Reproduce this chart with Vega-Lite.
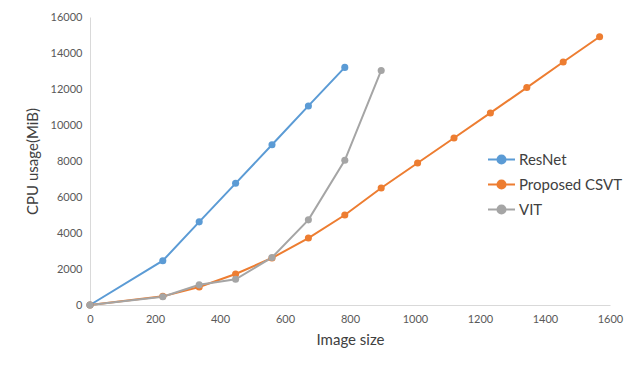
{
  "$schema": "https://vega.github.io/schema/vega-lite/v6.json",
  "width": 520,
  "height": 288,
  "autosize": {"type": "none"},
  "padding": {"left": 90, "top": 17, "right": 30, "bottom": 70},
  "background": "white",
  "config": {
    "view": {"stroke": null},
    "font": "Lato",
    "axis": {"labelFont": "Lato", "titleFont": "Lato", "labelColor": "#595959", "titleColor": "#404040", "titleFontWeight": "normal"}
  },
  "data": {
    "values": [
      {"model": "ResNet", "size": 0, "cpu": 0},
      {"model": "ResNet", "size": 224, "cpu": 2460},
      {"model": "ResNet", "size": 336, "cpu": 4620},
      {"model": "ResNet", "size": 448, "cpu": 6760},
      {"model": "ResNet", "size": 560, "cpu": 8900},
      {"model": "ResNet", "size": 672, "cpu": 11060},
      {"model": "ResNet", "size": 784, "cpu": 13200},
      {"model": "Proposed CSVT", "size": 0, "cpu": 0},
      {"model": "Proposed CSVT", "size": 224, "cpu": 480},
      {"model": "Proposed CSVT", "size": 336, "cpu": 1000},
      {"model": "Proposed CSVT", "size": 448, "cpu": 1720},
      {"model": "Proposed CSVT", "size": 560, "cpu": 2610},
      {"model": "Proposed CSVT", "size": 672, "cpu": 3720},
      {"model": "Proposed CSVT", "size": 784, "cpu": 5000},
      {"model": "Proposed CSVT", "size": 896, "cpu": 6500},
      {"model": "Proposed CSVT", "size": 1008, "cpu": 7890},
      {"model": "Proposed CSVT", "size": 1120, "cpu": 9280},
      {"model": "Proposed CSVT", "size": 1232, "cpu": 10670},
      {"model": "Proposed CSVT", "size": 1344, "cpu": 12080},
      {"model": "Proposed CSVT", "size": 1456, "cpu": 13500},
      {"model": "Proposed CSVT", "size": 1568, "cpu": 14900},
      {"model": "VIT", "size": 0, "cpu": 0},
      {"model": "VIT", "size": 224, "cpu": 460},
      {"model": "VIT", "size": 336, "cpu": 1120},
      {"model": "VIT", "size": 448, "cpu": 1430},
      {"model": "VIT", "size": 560, "cpu": 2640},
      {"model": "VIT", "size": 672, "cpu": 4730},
      {"model": "VIT", "size": 784, "cpu": 8040},
      {"model": "VIT", "size": 896, "cpu": 13030}
    ]
  },
  "mark": {"type": "line", "strokeWidth": 2, "point": {"filled": true, "size": 50, "opacity": 1}},
  "encoding": {
    "x": {
      "field": "size", "type": "quantitative",
      "scale": {"domain": [0, 1600], "nice": false},
      "axis": {"title": "Image size", "format": "d", "labelFlush": false, "labelOverlap": false, "values": [0,200,400,600,800,1000,1200,1400,1600], "grid": false, "ticks": false, "domainColor": "#D9D9D9", "labelFontSize": 11, "titleFontSize": 15, "labelPadding": 8, "titlePadding": 8}
    },
    "y": {
      "field": "cpu", "type": "quantitative",
      "scale": {"domain": [0, 16000], "nice": false},
      "axis": {"title": "CPU usage(MiB)", "format": "d", "labelFlush": false, "labelOverlap": false, "values": [0,2000,4000,6000,8000,10000,12000,14000,16000], "grid": false, "ticks": false, "domainColor": "#D9D9D9", "labelFontSize": 11, "titleFontSize": 15, "labelPadding": 8, "titlePadding": 10}
    },
    "color": {
      "field": "model", "type": "nominal",
      "sort": ["ResNet", "Proposed CSVT", "VIT"],
      "scale": {"domain": ["ResNet", "Proposed CSVT", "VIT"], "range": ["#5B9BD5", "#ED7D31", "#A5A5A5"]},
      "legend": {
        "title": null, "orient": "none", "legendX": 397, "legendY": 128,
        "symbolType": "M-1,0H1M-0.3,0a0.3,0.3 0 1,0 0.6,0a0.3,0.3 0 1,0 -0.6,0",
        "symbolSize": 729, "symbolStrokeWidth": 2,
        "labelFontSize": 15, "labelColor": "#404040", "labelOffset": 3, "rowPadding": 2,
        "encode": {"symbols": {"update": {"fill": {"scale": "color", "field": "value"}, "fillOpacity": {"value": 1}}}}
      }
    }
  }
}
